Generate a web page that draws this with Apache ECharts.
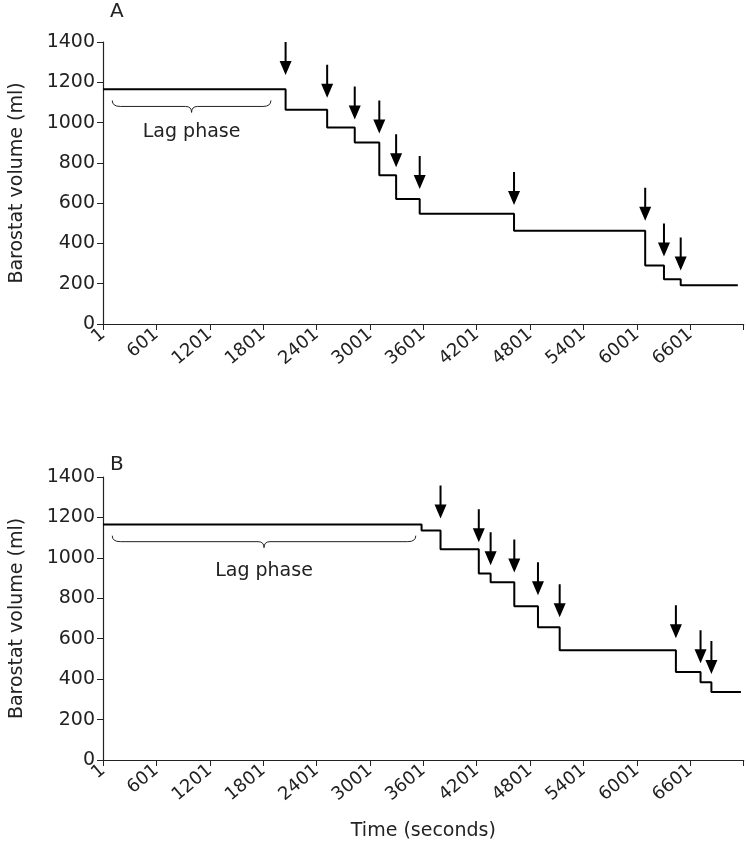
<!DOCTYPE html>
<html>
<head>
<meta charset="utf-8">
<script src="https://cdn.jsdelivr.net/npm/echarts@6/dist/echarts.min.js"></script>
<style>html,body{margin:0;padding:0;background:#fff}#chart{width:746px;height:853px}</style>
</head>
<body>
<div id="chart"></div>
<script>
// Panel A: step changes [time (s), volume (ml)]
const stepsA = [[1, 1165], [2053, 1064], [2520, 975], [2830, 901], [3106, 739], [3295, 621],
  [3560, 547], [4620, 463], [6094, 291], [6305, 222], [6493, 192], [7135, 192]];
// arrow tips [time, volume]
const arrowsA = [[2053, 1236], [2520, 1123], [2830, 1015], [3106, 946], [3295, 778], [3560, 670],
  [4620, 591], [6094, 512], [6305, 335], [6493, 266]];
const lagA = [105, 1888, 1090, 955];

// Panel B
const stepsB = [[1, 1165], [3581, 1135], [3794, 1042], [4224, 923], [4357, 879], [4623, 760],
  [4889, 657], [5133, 543], [6439, 435], [6716, 385], [6838, 336], [7170, 336]];
const arrowsB = [[3794, 1195], [4224, 1077], [4357, 963], [4623, 928], [4889, 815], [5133, 706],
  [6439, 602], [6716, 479], [6838, 425]];
const lagB = [105, 3516, 1090, 935];

const font = 'DejaVu Sans';
const arrowPath = 'path://M5,0 L7,0 L7,19 L12,19 L6,33 L0,19 L5,19 Z';

function xAxis(i, showName) {
  return {
    gridIndex: i, type: 'value', min: 1, max: 7201, interval: 600,
    name: showName ? 'Time (seconds)' : '', nameLocation: 'middle', nameGap: 62,
    nameTextStyle: { fontFamily: font, fontSize: 19, color: '#222' },
    axisLine: { lineStyle: { color: '#222', width: 1.2 } },
    axisTick: { lineStyle: { color: '#222' }, length: 6 },
    splitLine: { show: false },
    axisLabel: { rotate: 40, fontFamily: font, fontSize: 18, color: '#222', margin: 8,
      formatter: v => v === 7201 ? '' : String(v) }
  };
}
function yAxis(i) {
  return {
    gridIndex: i, type: 'value', min: 0, max: 1400, interval: 200,
    name: 'Barostat volume (ml)', nameLocation: 'middle', nameGap: 76,
    nameTextStyle: { fontFamily: font, fontSize: 19, color: '#222' },
    axisLine: { show: true, lineStyle: { color: '#222', width: 1.2 } },
    axisTick: { show: true, lineStyle: { color: '#222' }, length: 6 },
    splitLine: { show: false },
    axisLabel: { fontFamily: font, fontSize: 19, color: '#222', margin: 8, formatter: v => String(v) }
  };
}
function lagSeries(i, lag) {
  return {
    type: 'custom', xAxisIndex: i, yAxisIndex: i, data: [lag], silent: true,
    renderItem: (params, api) => {
      const a = api.coord([api.value(0), api.value(2)]);
      const b = api.coord([api.value(1), api.value(2)]);
      const t = api.coord([api.value(3), api.value(3)]);
      const mid = (a[0] + b[0]) / 2, y = a[1];
      const d = `M${a[0]},${y - 4} Q${a[0]},${y + 2} ${a[0] + 8},${y + 2} L${mid - 6},${y + 2} Q${mid},${y + 2} ${mid},${y + 8} Q${mid},${y + 2} ${mid + 6},${y + 2} L${b[0] - 8},${y + 2} Q${b[0]},${y + 2} ${b[0]},${y - 4}`;
      return { type: 'group', children: [
        { type: 'path', shape: { pathData: d }, style: { fill: null, stroke: '#222', lineWidth: 1 } },
        { type: 'text', style: { x: mid, y: t[1], text: 'Lag phase', align: 'center', verticalAlign: 'middle',
          font: `19px "${font}"`, fill: '#222' } }
      ] };
    }
  };
}
function stepSeries(i, steps) {
  return { type: 'line', xAxisIndex: i, yAxisIndex: i, step: 'end', data: steps, symbol: 'none',
    lineStyle: { color: '#000', width: 2 } };
}
function arrowSeries(i, arrows) {
  return { type: 'scatter', xAxisIndex: i, yAxisIndex: i, data: arrows, symbol: arrowPath,
    symbolSize: [12, 33], symbolOffset: [0, '-50%'], itemStyle: { color: '#000', opacity: 1 } };
}

const chart = echarts.init(document.getElementById('chart'));
chart.setOption({
  animation: false,
  textStyle: { fontFamily: font },
  grid: [
    { left: 97, right: 1, top: 42, height: 282 },
    { left: 97, right: 1, top: 477, height: 283 }
  ],
  graphic: [
    { type: 'text', left: 110, top: 2, style: { text: 'A', font: `20px "${font}"`, fill: '#222' } },
    { type: 'text', left: 110, top: 455, style: { text: 'B', font: `20px "${font}"`, fill: '#222' } }
  ],
  xAxis: [xAxis(0, false), xAxis(1, true)],
  yAxis: [yAxis(0), yAxis(1)],
  series: [
    stepSeries(0, stepsA), arrowSeries(0, arrowsA), lagSeries(0, lagA),
    stepSeries(1, stepsB), arrowSeries(1, arrowsB), lagSeries(1, lagB)
  ]
});
</script>
</body>
</html>
